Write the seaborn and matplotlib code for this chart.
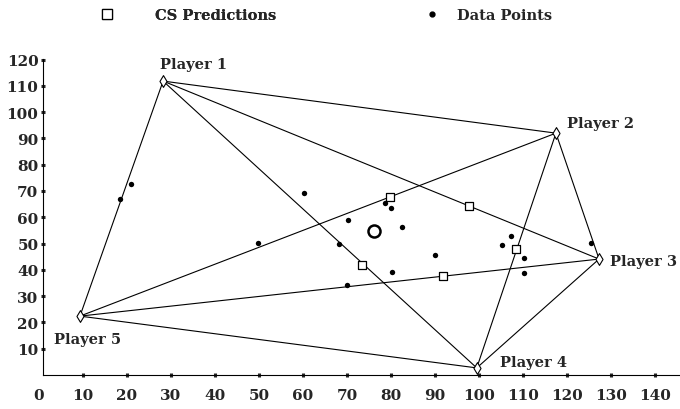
import matplotlib
matplotlib.use("Agg")
import matplotlib.pyplot as plt
import seaborn as sns
import pandas as pd
from matplotlib.lines import Line2D
from itertools import combinations

sns.set_theme(style="white")
plt.rcParams['font.family'] = ['DejaVu Serif']
plt.rcParams['font.weight'] = 'bold'

# ---- data ----
player_names = ["Player 1", "Player 2", "Player 3", "Player 4", "Player 5"]
player_x = [28.2, 117.5, 127.3, 99.5, 9.3]
player_y = [111.8, 92.0, 44.1, 2.7, 22.4]

cs_x = [79.8, 97.7, 73.4, 108.4, 91.8]
cs_y = [67.7, 64.3, 41.8, 47.9, 37.6]

data_x = [18.4, 20.8, 49.8, 60.2, 78.6, 80.1, 70.3, 82.6, 68.1, 89.9,
          105.2, 107.3, 110.3, 110.3, 80.2, 69.9, 125.4]
data_y = [66.8, 72.6, 50.2, 69.3, 65.6, 63.6, 59.0, 56.3, 49.9, 45.8,
          49.3, 52.7, 44.5, 38.8, 39.3, 34.4, 50.2]

center_x = [76.1]
center_y = [54.6]

x_ticks = [10, 20, 30, 40, 50, 60, 70, 80, 90, 100, 110, 120, 130, 140]
y_ticks = [10, 20, 30, 40, 50, 60, 70, 80, 90, 100, 110, 120]

# label offsets in pixels (dx, dy)
label_dx = [-3, 11, 11, 23, -26]
label_dy = [19, 12, 0, 7, -21]

# ---- build tables ----
rows = []
for k, (i, j) in enumerate(combinations(range(5), 2)):
    rows.append({"edge": k, "x": player_x[i], "y": player_y[i]})
    rows.append({"edge": k, "x": player_x[j], "y": player_y[j]})
edges = pd.DataFrame(rows)
players = pd.DataFrame({"x": player_x, "y": player_y, "name": player_names})
cs = pd.DataFrame({"x": cs_x, "y": cs_y})
pts = pd.DataFrame({"x": data_x, "y": data_y})
ctr = pd.DataFrame({"x": center_x, "y": center_y})

fig = plt.figure(figsize=(6.8, 4.1), dpi=100)
ax = fig.add_axes([43/680, 1-376/410, 1-43/680, (376-60)/410])

sns.lineplot(data=edges, x="x", y="y", units="edge", estimator=None, sort=False,
             color="black", lw=0.8, ax=ax, legend=False)
sns.scatterplot(data=players, x="x", y="y", marker="d", s=36, facecolor="white",
                edgecolor="black", linewidth=0.8, ax=ax, zorder=3)
sns.scatterplot(data=cs, x="x", y="y", marker="s", s=40, facecolor="white",
                edgecolor="black", linewidth=0.9, ax=ax, zorder=3)
sns.scatterplot(data=pts, x="x", y="y", marker="o", s=15, color="black",
                edgecolor="black", linewidth=0, ax=ax, zorder=3)
sns.scatterplot(data=ctr, x="x", y="y", marker="o", s=75, facecolor="white",
                edgecolor="black", linewidth=1.8, ax=ax, zorder=3)

for name, px, py, dx, dy in zip(player_names, player_x, player_y, label_dx, label_dy):
    ax.annotate(name, (px, py), xytext=(dx, dy), textcoords="offset pixels",
                ha="left", va="center_baseline", fontsize=10.5, fontweight="bold")

ax.set_xlim(0.9, 145.7)
ax.set_ylim(0, 120.2)
ax.set_xticks(x_ticks)
ax.set_xticklabels([str(v) for v in x_ticks])
ax.set_yticks(y_ticks)
ax.set_yticklabels([str(v) for v in y_ticks])
ax.tick_params(axis="x", direction="inout", length=2.5, width=2.2, pad=8,
               labelsize=11, bottom=True)
ax.tick_params(axis="y", direction="inout", length=2.5, width=2.2, pad=2,
               labelsize=11, left=True)
for lab in ax.get_xticklabels() + ax.get_yticklabels():
    lab.set_fontweight("bold")
fig.canvas.draw()
ref_lab = ax.get_xticklabels()[0]
bb = ref_lab.get_window_extent()
ax.annotate("0", xy=(0, 0), xycoords=ax.get_xaxis_transform(),
            xytext=(0, bb.y1 - ax.transAxes.transform((0, 0))[1]),
            textcoords="offset pixels", ha="center", va="top",
            fontsize=11, fontweight="bold", annotation_clip=False)
ax.set_xlabel("")
ax.set_ylabel("")
for side in ["top", "right"]:
    ax.spines[side].set_visible(False)
for side in ["left", "bottom"]:
    ax.spines[side].set_color("black")
    ax.spines[side].set_linewidth(0.8)

h1 = Line2D([], [], marker="s", ls="none", markerfacecolor="white",
            markeredgecolor="black", markersize=7, markeredgewidth=0.9)
h2 = Line2D([], [], marker="o", ls="none", color="black", markersize=3.5)
leg1 = fig.legend([h1], ["CS Predictions"], loc="center left",
                  bbox_to_anchor=(99.5/680, 1-16/410), frameon=False,
                  handlelength=1, handletextpad=2.8, borderpad=0,
                  borderaxespad=0, prop={"size": 10.5, "weight": "bold"})
leg2 = fig.legend([h2], ["Data Points"], loc="center left",
                  bbox_to_anchor=(424.5/680, 1-16/410), frameon=False,
                  handlelength=1, handletextpad=1.2, borderpad=0,
                  borderaxespad=0, prop={"size": 10.5, "weight": "bold"})
fig.add_artist(leg1)

fig.savefig("out.png", dpi=100)
